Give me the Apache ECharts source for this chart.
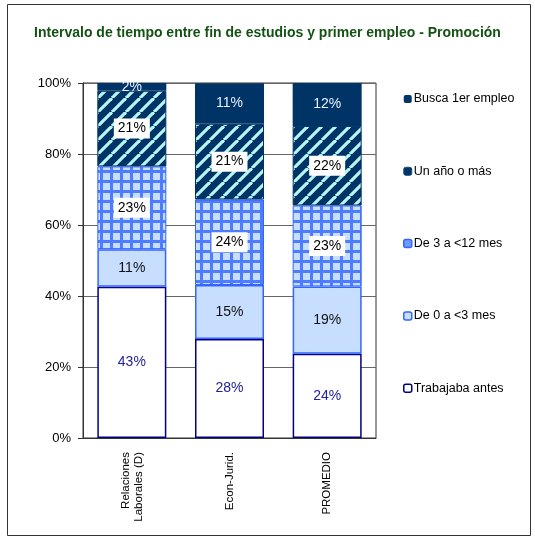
<!DOCTYPE html>
<html>
<head>
<meta charset="utf-8">
<script src="https://cdn.jsdelivr.net/npm/echarts@6/dist/echarts.min.js"></script>
<style>
html,body{margin:0;padding:0;background:#fff;}
#demo{width:535px;height:542px;}
</style>
</head>
<body>
<div id="demo"></div>
<script>
var categories = ['Relaciones\nLaborales (D)', 'Econ-Jurid.', 'PROMEDIO'];
var seriesNames = ['Trabajaba antes', 'De 0 a <3 mes', 'De 3 a <12 mes', 'Un año o más', 'Busca 1er empleo'];
var trabajaba = [42.6, 27.9, 23.7];
var de0a3 = [10.6, 15.2, 19.0];
var de3a12 = [23.3, 24.1, 22.8];
var unAno = [21.3, 21.3, 22.4];
var busca = [2.2, 11.4, 12.1];
var yTicks = [0, 20, 40, 60, 80, 100];

// patrones de relleno
function gridPattern(){
    var c = document.createElement('canvas');
    c.width = 10; c.height = 10;
    var ctx = c.getContext('2d');
    ctx.fillStyle = '#c8deff';
    ctx.fillRect(0, 0, 10, 10);
    ctx.fillStyle = '#4d7cff';
    ctx.fillRect(0, 0, 10, 3);
    ctx.fillRect(0, 0, 3, 10);
    return c;
}
function stripePattern(){
    var s = 14;
    var c = document.createElement('canvas');
    c.width = s; c.height = s;
    var ctx = c.getContext('2d');
    ctx.fillStyle = '#003366';
    ctx.fillRect(0, 0, s, s);
    ctx.strokeStyle = '#b8f6f6';
    ctx.lineWidth = 3.2;
    for (var k = -1; k <= 1; k++) {
        ctx.beginPath();
        ctx.moveTo(k * s, s);
        ctx.lineTo(k * s + s, 0);
        ctx.stroke();
    }
    return c;
}

function pct(p){ return Math.round(p.value) + '%'; }

var labelBase = {show: true, position: 'inside', fontSize: 14, fontFamily: 'Liberation Sans, Arial', formatter: pct};

var option = {
    backgroundColor: '#fff',
    title: {
        text: 'Intervalo de tiempo entre fin de estudios y primer empleo - Promoción',
        left: 'center',
        top: 21,
        textStyle: {fontSize: 14, fontWeight: 'bold', color: '#145214', fontFamily: 'Liberation Sans, Arial'}
    },
    graphic: [{
        type: 'rect',
        shape: {x: 7.5, y: 4.5, width: 523, height: 531},
        style: {fill: 'none', stroke: '#333', lineWidth: 1},
        silent: true
    }],
    legend: {
        orient: 'vertical',
        left: 398,
        top: 87,
        itemWidth: 8,
        itemHeight: 8,
        itemGap: 58.3,
        textStyle: {fontSize: 12.5, color: '#000', lineHeight: 14, fontFamily: 'Liberation Sans, Arial', padding: [0, 0, 0, -3]},
        data: [
            {name: 'Busca 1er empleo', itemStyle: {color: '#003366', borderWidth: 0}},
            {name: 'Un año o más', itemStyle: {color: '#003366', borderColor: '#1a4d80', borderWidth: 1}},
            {name: 'De 3 a <12 mes', itemStyle: {color: '#6f9bff', borderColor: '#3366ff', borderWidth: 1.5}},
            {name: 'De 0 a <3 mes', itemStyle: {color: '#c8deff', borderColor: '#3366ff', borderWidth: 1.5}},
            {name: 'Trabajaba antes', itemStyle: {color: '#fff', borderColor: '#000080', borderWidth: 1.5}}
        ]
    },
    grid: {left: 83, right: 159, top: 83, bottom: 104, show: true, borderColor: '#333', borderWidth: 1},
    xAxis: {
        type: 'category',
        data: categories,
        axisLine: {lineStyle: {color: '#333'}},
        axisTick: {show: false},
        axisLabel: {rotate: 90, fontSize: 11.5, color: '#000', margin: 14, lineHeight: 13, fontFamily: 'Liberation Sans, Arial'}
    },
    yAxis: {
        type: 'value',
        min: 0,
        max: 100,
        interval: 20,
        axisLine: {show: true, lineStyle: {color: '#333'}},
        axisTick: {show: true, length: 5, lineStyle: {color: '#333'}},
        splitLine: {lineStyle: {color: '#666'}},
        axisLabel: {
            fontSize: 13, color: '#000', margin: 12, fontFamily: 'Liberation Sans, Arial',
            formatter: function(v){ return yTicks.indexOf(v) >= 0 ? v + '%' : ''; }
        }
    },
    series: [
        {
            name: seriesNames[0], type: 'bar', stack: 'total', barWidth: 69, data: trabajaba,
            itemStyle: {color: '#fff', borderColor: '#000080', borderWidth: 1.5},
            label: Object.assign({}, labelBase, {color: '#22229a'})
        },
        {
            name: seriesNames[1], type: 'bar', stack: 'total', data: de0a3,
            itemStyle: {color: '#c8deff', borderColor: '#3366ff', borderWidth: 1.5},
            label: Object.assign({}, labelBase, {color: '#111'})
        },
        {
            name: seriesNames[2], type: 'bar', stack: 'total', data: de3a12,
            itemStyle: {color: {image: gridPattern(), repeat: 'repeat'}, borderColor: '#3366ff', borderWidth: 1},
            label: Object.assign({}, labelBase, {color: '#000', backgroundColor: '#fff', padding: [3, 4, 3, 4]})
        },
        {
            name: seriesNames[3], type: 'bar', stack: 'total', data: unAno,
            itemStyle: {color: {image: stripePattern(), repeat: 'repeat'}, borderColor: '#003366', borderWidth: 1},
            label: Object.assign({}, labelBase, {color: '#000', backgroundColor: '#fff', padding: [3, 4, 3, 4]})
        },
        {
            name: seriesNames[4], type: 'bar', stack: 'total', data: busca,
            itemStyle: {color: '#003366'},
            label: Object.assign({}, labelBase, {color: '#e8f0ff'})
        }
    ]
};

var myCharts = echarts.init(document.getElementById('demo'));
myCharts.setOption(option);
</script>
</body>
</html>
